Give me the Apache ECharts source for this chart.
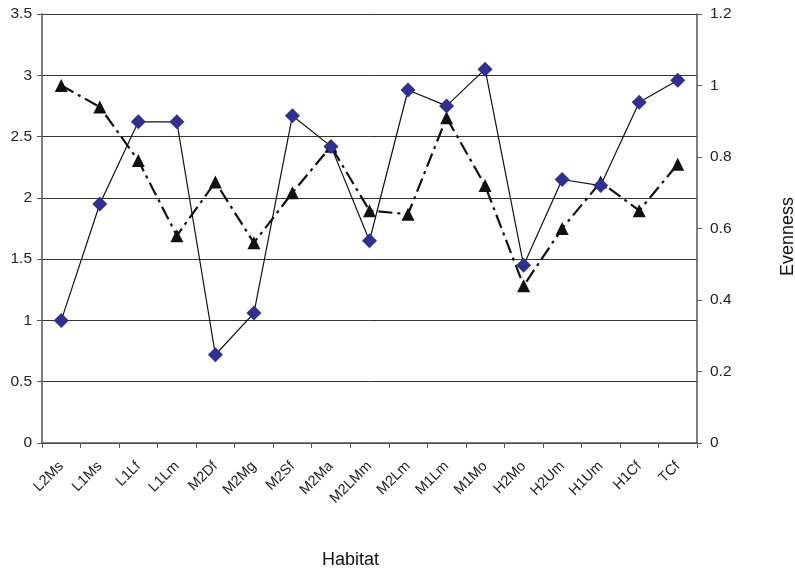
<!DOCTYPE html>
<html><head><meta charset="utf-8">
<script src="https://cdn.jsdelivr.net/npm/echarts@6/dist/echarts.min.js"></script>
<style>html,body{margin:0;padding:0;background:#fff;overflow:hidden}#c{width:795px;height:569px}</style>
</head><body><div id="c"></div>
<script>
const categories = ["L2Ms","L1Ms","L1Lf","L1Lm","M2Df","M2Mg","M2Sf","M2Ma","M2LMm","M2Lm","M1Lm","M1Mo","H2Mo","H2Um","H1Um","H1Cf","TCf"];
const diversity = [1.0,1.95,2.62,2.62,0.72,1.06,2.67,2.42,1.65,2.88,2.75,3.05,1.45,2.15,2.1,2.78,2.96];
const evenness = [1.0,0.94,0.79,0.58,0.73,0.56,0.70,0.83,0.65,0.64,0.91,0.72,0.44,0.60,0.73,0.65,0.78];
const leftTicks = {min:0,max:3.5,interval:0.5};
const rightTicks = {min:0,max:1.2,interval:0.2};

const chart = echarts.init(document.getElementById('c'));
const font = 'Liberation Sans, Arial, sans-serif';
chart.setOption({
  animation:false,
  grid:{left:42,right:98,top:14,bottom:126,containLabel:false,outerBoundsMode:'none'},
  xAxis:{
    type:'category', data:categories, boundaryGap:true,
    name:'Habitat', nameLocation:'middle', nameGap:108,
    nameTextStyle:{fontFamily:font,fontSize:18,color:'#111',padding:[0,38,0,0]},
    axisLine:{lineStyle:{color:'#555',width:1.5}},
    axisTick:{show:true,alignWithLabel:false,length:5,lineStyle:{color:'#555'}},
    axisLabel:{rotate:45,fontFamily:'Liberation Sans Narrow, Arial Narrow, sans-serif',fontSize:14.5,color:'#222',margin:21,interval:0}
  },
  yAxis:[{
    type:'value', min:leftTicks.min, max:leftTicks.max, interval:leftTicks.interval,
    axisLine:{show:true,lineStyle:{color:'#555',width:1.5}},
    axisTick:{show:true,length:5,lineStyle:{color:'#555'}},
    axisLabel:{fontFamily:font,fontSize:15.5,color:'#222',margin:10},
    splitLine:{show:true,lineStyle:{color:'#333',width:1}}
  },{
    type:'value', position:'right', min:rightTicks.min, max:rightTicks.max, interval:rightTicks.interval,
    name:'Evenness', nameLocation:'middle', nameGap:82, nameRotate:90,
    nameTextStyle:{fontFamily:font,fontSize:18,color:'#111',padding:[0,16,0,0]},
    axisLine:{show:true,lineStyle:{color:'#555',width:1.5}},
    axisTick:{show:true,length:5,lineStyle:{color:'#555'}},
    axisLabel:{fontFamily:font,fontSize:15.5,color:'#222',margin:13},
    splitLine:{show:false}
  }],
  series:[{
    type:'line', name:'Evenness', yAxisIndex:1, data:evenness,
    symbol:'triangle', symbolSize:13,
    itemStyle:{color:'#111'},
    lineStyle:{color:'#111',width:2.2,type:[14,5,3,5]},
    z:2
  },{
    type:'line', name:'Diversity', yAxisIndex:0, data:diversity,
    symbol:'diamond', symbolSize:15,
    itemStyle:{color:'#2E3192'},
    lineStyle:{color:'#111',width:1.2},
    z:3
  }]
});
</script></body></html>
